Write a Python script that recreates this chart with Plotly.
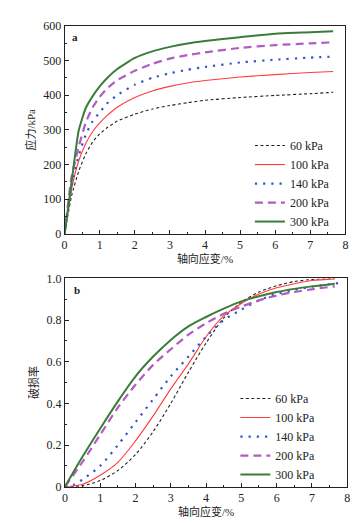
import plotly.graph_objects as go

# ---- data ----
strain_a = [0, 0.2, 0.4, 0.6, 0.8, 1.0, 1.2, 1.5, 2, 2.5, 3, 3.5, 4, 5, 6, 7, 7.65]
stress_60 = [0, 110, 180, 230, 265, 288, 305, 325, 345, 360, 370, 378, 385, 393, 399, 404, 408]
stress_100 = [0, 130, 210, 260, 295, 320, 340, 365, 393, 412, 425, 435, 442, 452, 459, 465, 468]
stress_140 = [0, 140, 225, 285, 325, 350, 375, 400, 430, 450, 463, 473, 481, 494, 502, 508, 511]
stress_200 = [0, 165, 250, 320, 365, 395, 418, 443, 470, 490, 505, 515, 523, 536, 544, 549, 552]
stress_300 = [0, 150, 297, 362, 397, 425, 448, 475, 507, 526, 539, 549, 556, 567, 577, 581, 584]

strain_b = [0, 0.5, 1, 1.5, 2, 2.5, 3, 3.5, 4, 4.5, 5, 5.5, 6, 6.5, 7, 7.65]
dmg_60 = [0, 0.005, 0.03, 0.078, 0.155, 0.265, 0.40, 0.55, 0.69, 0.81, 0.885, 0.935, 0.965, 0.985, 0.995, 1.0]
dmg_100 = [0, 0.012, 0.055, 0.117, 0.22, 0.34, 0.47, 0.59, 0.72, 0.82, 0.88, 0.925, 0.955, 0.975, 0.99, 0.998]
dmg_200 = [0, 0.12, 0.25, 0.38, 0.49, 0.585, 0.66, 0.73, 0.785, 0.83, 0.865, 0.895, 0.918, 0.935, 0.948, 0.962]
dmg_300 = [0, 0.145, 0.28, 0.41, 0.53, 0.625, 0.705, 0.77, 0.815, 0.855, 0.89, 0.915, 0.935, 0.95, 0.962, 0.975]
strain_b140 = [0, 0.25, 0.5, 1, 1.5, 2, 2.5, 3, 3.5, 4, 4.5, 5, 5.5, 6, 6.5, 7, 7.85]
dmg_140 = [0, 0.01, 0.035, 0.10, 0.20, 0.31, 0.42, 0.53, 0.625, 0.72, 0.80, 0.85, 0.895, 0.925, 0.945, 0.96, 0.98]

labels = ["60 kPa", "100 kPa", "140 kPa", "200 kPa", "300 kPa"]
colors = ["#222222", "#ff3b3b", "#3355cc", "#b05cc0", "#3a7d3a"]
dashes = ["3px,2.5px", "solid", "2.2px,6px", "8px,5px", "solid"]
widths = [1.1, 1.1, 2.2, 2.2, 2.0]

xticks = [0, 1, 2, 3, 4, 5, 6, 7, 8]
yticks_a = [0, 100, 200, 300, 400, 500, 600]
yticks_b = [0, 0.2, 0.4, 0.6, 0.8, 1.0]
ytext_b = ["0", "0.2", "0.4", "0.6", "0.8", "1.0"]

FONT = "Liberation Serif, Noto Sans CJK SC, serif"

fig = go.Figure()
series_a = [stress_60, stress_100, stress_140, stress_200, stress_300]
for lab, ys, c, d, w in zip(labels, series_a, colors, dashes, widths):
    fig.add_trace(go.Scatter(x=strain_a, y=ys, mode="lines", name=lab,
                             line=dict(color=c, dash=d, width=w, shape="spline", smoothing=0.5),
                             xaxis="x", yaxis="y", legend="legend"))

series_b = [(strain_b, dmg_60), (strain_b, dmg_100), (strain_b140, dmg_140), (strain_b, dmg_200), (strain_b, dmg_300)]
for lab, (xs, ys), c, d, w in zip(labels, series_b, colors, dashes, widths):
    fig.add_trace(go.Scatter(x=xs, y=ys, mode="lines", name=lab,
                             line=dict(color=c, dash=d, width=w, shape="spline", smoothing=0.8),
                             xaxis="x2", yaxis="y2", legend="legend2"))

axcommon = dict(showline=True, linecolor="#222", linewidth=1, mirror=True, ticks="inside", ticklen=4,
                tickcolor="#222", showgrid=False, zeroline=False,
                tickfont=dict(family=FONT, size=12, color="#222"),
                minor=dict(ticks="inside", ticklen=2, tickcolor="#222"))

fig.update_layout(
    width=361, height=523, margin=dict(l=0, r=0, t=0, b=0),
    paper_bgcolor="white", plot_bgcolor="white",
    font=dict(family=FONT, size=11, color="#222"),
    xaxis=dict(domain=[0.151, 0.942], range=[0, 8], tickvals=xticks, anchor="y",
               title=dict(text="轴向应变/%", font=dict(family=FONT, size=11), standoff=3), minor_dtick=0.5, **axcommon),
    yaxis=dict(domain=[0.570, 0.979], range=[0, 600], tickvals=yticks_a, anchor="x",
               title=dict(text="应力/kPa", font=dict(family=FONT, size=11), standoff=5), minor_dtick=50, **axcommon),
    xaxis2=dict(domain=[0.152, 0.947], range=[0, 8], tickvals=xticks, anchor="y2",
                title=dict(text="轴向应变/%", font=dict(family=FONT, size=11), standoff=3), minor_dtick=0.5, **axcommon),
    yaxis2=dict(domain=[0.0732, 0.4824], range=[0, 1.0], tickvals=yticks_b, ticktext=ytext_b, anchor="x2",
                title=dict(text="破损率", font=dict(family=FONT, size=11), standoff=5), minor_dtick=0.1, **axcommon),
    legend=dict(x=0.673, y=0.772, xanchor="left", yanchor="top", bgcolor="rgba(0,0,0,0)",
                font=dict(family=FONT, size=12), tracegroupgap=0, itemwidth=30),
    legend2=dict(x=0.632, y=0.275, xanchor="left", yanchor="top", bgcolor="rgba(0,0,0,0)",
                 font=dict(family=FONT, size=12), tracegroupgap=0, itemwidth=30),
    annotations=[
        dict(text="<b>a</b>", x=0.02, y=0.985, xref="x domain", yref="y domain", showarrow=False,
             xanchor="left", yanchor="top", font=dict(family=FONT, size=11)),
        dict(text="<b>b</b>", x=0.025, y=0.985, xref="x2 domain", yref="y2 domain", showarrow=False,
             xanchor="left", yanchor="top", font=dict(family=FONT, size=11)),
    ],
)

fig.write_html("out.html")
